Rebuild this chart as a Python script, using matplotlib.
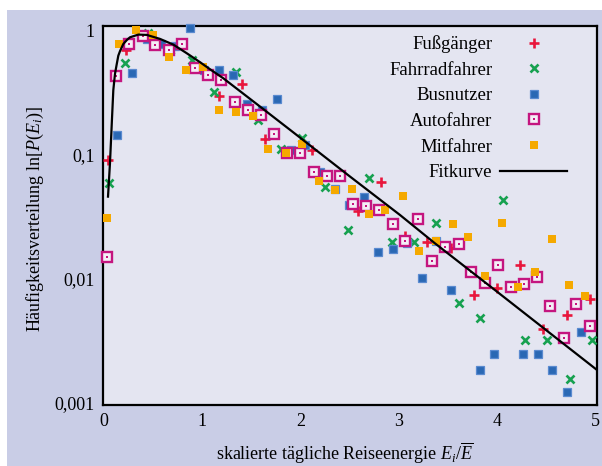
import matplotlib
matplotlib.use("Agg")
import matplotlib.pyplot as plt
from matplotlib.patches import Rectangle
from matplotlib.legend_handler import HandlerTuple
from matplotlib.ticker import FixedLocator, FixedFormatter, NullLocator

plt.rcParams['font.family'] = ['Liberation Serif', 'DejaVu Serif']
plt.rcParams['mathtext.fontset'] = 'custom'
plt.rcParams['mathtext.rm'] = 'Liberation Serif'
plt.rcParams['mathtext.it'] = 'Liberation Serif:italic'

# ---- data ----
series_names = ["Fußgänger", "Fahrradfahrer", "Busnutzer", "Autofahrer", "Mitfahrer"]
fit_label = "Fitkurve"

fuss_x = [0.04, 0.22, 1.17, 1.41, 1.64, 2.12, 2.59, 2.82, 3.06, 3.29, 3.53, 3.77, 4.00, 4.24, 4.47, 4.71, 4.95]
fuss_y = [0.090, 0.70, 0.295, 0.372, 0.134, 0.109, 0.035, 0.060, 0.022, 0.0198, 0.0176, 0.0074, 0.0084, 0.0128, 0.0039, 0.0051, 0.0068]

fahr_x = [0.05, 0.21, 0.45, 0.675, 0.90, 1.12, 1.34, 1.57, 1.80, 2.02, 2.25, 2.48, 2.70, 2.93, 3.16, 3.38, 3.61, 3.83, 4.06, 4.29, 4.51, 4.74, 4.97]
fahr_y = [0.0586, 0.55, 0.95, 0.70, 0.575, 0.319, 0.466, 0.189, 0.110, 0.135, 0.0547, 0.0246, 0.065, 0.0196, 0.0196, 0.0279, 0.0064, 0.0048, 0.043, 0.0032, 0.0032, 0.00156, 0.0032]

bus_x = [0.136, 0.285, 0.435, 0.58, 0.726, 0.873, 1.02, 1.171, 1.317, 1.46, 1.61, 1.76, 1.905, 2.05, 2.20, 2.35, 2.497, 2.645, 2.79, 2.94, 3.09, 3.24, 3.38, 3.53, 3.83, 3.97, 4.27, 4.415, 4.565, 4.71, 4.86]
bus_y = [0.144, 0.457, 0.85, 0.774, 0.75, 1.04, 0.48, 0.483, 0.438, 0.256, 0.229, 0.282, 0.109, 0.12, 0.0722, 0.0527, 0.0394, 0.0454, 0.0164, 0.0172, 0.0192, 0.0100, 0.0202, 0.0081, 0.00183, 0.00245, 0.00245, 0.00245, 0.00183, 0.00121, 0.0037]

auto_x = [0.027, 0.122, 0.258, 0.393, 0.523, 0.659, 0.794, 0.927, 1.059, 1.195, 1.33, 1.463, 1.596, 1.73, 1.867, 2.0, 2.135, 2.267, 2.403, 2.54, 2.67, 2.80, 2.94, 3.07, 3.20, 3.34, 3.475, 3.61, 3.74, 3.875, 4.01, 4.145, 4.28, 4.41, 4.545, 4.68, 4.81, 4.95]
auto_y = [0.0150, 0.43, 0.778, 0.908, 0.768, 0.692, 0.778, 0.496, 0.438, 0.399, 0.267, 0.23, 0.208, 0.145, 0.102, 0.102, 0.0718, 0.0667, 0.0667, 0.0399, 0.0384, 0.0359, 0.0275, 0.0201, 0.0302, 0.0138, 0.0178, 0.0191, 0.0113, 0.00925, 0.0128, 0.0085, 0.0091, 0.0103, 0.0060, 0.00333, 0.0062, 0.00416]

mit_x = [0.034, 0.156, 0.326, 0.502, 0.664, 0.838, 1.005, 1.174, 1.347, 1.514, 1.673, 1.853, 2.02, 2.19, 2.355, 2.53, 2.70, 2.865, 3.04, 3.21, 3.38, 3.55, 3.71, 3.88, 4.056, 4.22, 4.39, 4.565, 4.73, 4.90]
mit_y = [0.0306, 0.778, 1.0, 0.92, 0.608, 0.478, 0.505, 0.227, 0.219, 0.203, 0.110, 0.103, 0.121, 0.0608, 0.0517, 0.0524, 0.033, 0.0355, 0.046, 0.0166, 0.0201, 0.0274, 0.0215, 0.0104, 0.0279, 0.0086, 0.0112, 0.0207, 0.0088, 0.0072]

fit_x = [0.041, 0.061, 0.081, 0.095, 0.112, 0.129, 0.146, 0.163, 0.197, 0.235, 0.265, 0.35, 0.435, 0.57, 0.706, 0.842, 0.978, 1.08, 1.215, 1.555, 1.894, 2.5, 3.014, 3.37, 4.0, 5.02]
fit_y = [0.0457, 0.085, 0.19, 0.33, 0.446, 0.53, 0.626, 0.68, 0.778, 0.84, 0.88, 0.925, 0.92, 0.854, 0.768, 0.655, 0.554, 0.486, 0.411, 0.255, 0.158, 0.0668, 0.0325, 0.0192, 0.00785, 0.00183]

x_ticks = [0, 1, 2, 3, 4, 5]
x_ticklabels = ["0", "1", "2", "3", "4", "5"]
y_ticks = [0.001, 0.01, 0.1, 1]
y_ticklabels = ["0,001", "0,01", "0,1", "1"]

# ---- style ----
c_red = "#e8163c"
c_green = "#17a150"
c_blue = "#2a68b4"
c_mag = "#c4157f"
c_orange = "#f5a900"
bg_outer = "#c9cde6"
bg_axes = "#e4e5f1"

fig = plt.figure(figsize=(6.02, 4.66), dpi=100)
fig.patch.set_facecolor("white")
fig.patches.append(Rectangle((7 / 602, 0), 1, (466 - 10) / 466, transform=fig.transFigure,
                             facecolor=bg_outer, edgecolor="none", zorder=-10))

ax = fig.add_axes([103 / 602, (466 - 405) / 466, 494 / 602, 379 / 466])
ax.set_facecolor(bg_axes)
ax.set_yscale("log")
ax.set_xlim(-0.01, 5.02)
ax.set_ylim(0.000955, 1.085)

h_fuss, = ax.plot(fuss_x, fuss_y, ls="none", marker="+", ms=6.5, mew=1.9, color=c_red, clip_on=False, zorder=3)
h_fahr, = ax.plot(fahr_x, fahr_y, ls="none", marker="x", ms=5.5, mew=1.9, color=c_green, clip_on=False, zorder=3)
h_bus, = ax.plot(bus_x, bus_y, ls="none", marker="s", ms=5.6, mew=0.9, mfc=c_blue, mec="#5a8ad0", clip_on=False, zorder=3)
h_auto1, = ax.plot(auto_x, auto_y, ls="none", marker="s", ms=6.6, mew=1.7, mfc="#f4eef6", mec=c_mag, clip_on=False, zorder=3)
h_auto2, = ax.plot(auto_x, auto_y, ls="none", marker="s", ms=2.0, mew=0, mfc=c_mag, clip_on=False, zorder=3)
h_mit, = ax.plot(mit_x, mit_y, ls="none", marker="s", ms=6.3, mew=0, mfc=c_orange, clip_on=False, zorder=3)
h_fit, = ax.plot(fit_x, fit_y, color="black", lw=1.6, zorder=4)

ax.yaxis.set_major_locator(FixedLocator(y_ticks))
ax.yaxis.set_major_formatter(FixedFormatter(y_ticklabels))
ax.yaxis.set_minor_locator(NullLocator())
ax.xaxis.set_major_locator(FixedLocator(x_ticks))
ax.xaxis.set_major_formatter(FixedFormatter(x_ticklabels))
ax.tick_params(axis="both", length=0, labelsize=13, pad=6)

for s in ax.spines.values():
    s.set_linewidth(1.6)
    s.set_color("black")

ax.set_xlabel(r"skalierte tägliche Reiseenergie $E_i/\overline{E}$", fontsize=13)
ax.set_ylabel(r"Häufigkeitsverteilung ln$[P(E_i)]$", fontsize=13)
ax.xaxis.set_label_coords(0.49, -0.095)
ax.yaxis.set_label_coords(-0.115, 0.49)

handles = [h_fuss, h_fahr, h_bus, (h_auto1, h_auto2), h_mit, h_fit]
labels = series_names + [fit_label]
leg = ax.legend(handles, labels, loc="upper right", bbox_to_anchor=(0.94, 0.975),
                frameon=False, markerfirst=False, handlelength=3.6, handletextpad=0.4,
                labelspacing=0.45, fontsize=13.5, borderpad=0, borderaxespad=0,
                handler_map={tuple: HandlerTuple(ndivide=1)})

fig.savefig("out.png", dpi=100, facecolor=fig.get_facecolor())
